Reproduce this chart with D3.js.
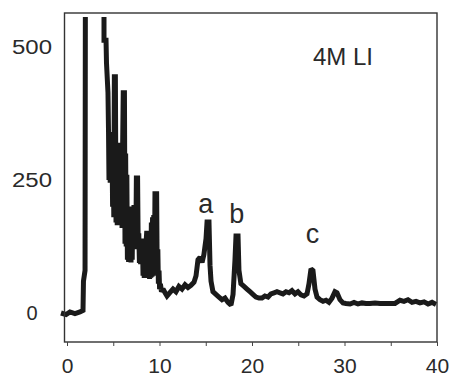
<!DOCTYPE html>
<html><head><meta charset="utf-8">
<script src="https://cdn.jsdelivr.net/npm/d3@7"></script>
<style>body{margin:0;background:#fff}svg{display:block}text{font-family:"Liberation Sans",Arial,sans-serif;fill:#2a2a2a}</style>
</head><body>
<svg id="c" width="454" height="379"></svg>
<script>
// retention / elution axis values
const xs = [-0.65,-0.1,0.32,0.86,1.4,1.73,1.78,1.95,2.05,4.0,4.0,4.22,4.27,
4.43,4.49,4.54,4.61,4.67,4.74,4.80,4.86,4.93,4.99,5.06,5.12,5.23,5.30,5.36,5.43,5.49,5.56,5.62,5.69,5.75,5.82,5.88,5.95,6.01,6.08,6.21,6.27,6.34,6.40,6.47,6.53,6.59,6.66,6.72,6.79,6.85,6.92,6.98,7.05,7.11,7.18,7.24,7.31,7.37,7.44,7.50,7.63,7.70,7.76,7.83,7.89,7.96,8.02,8.09,8.15,8.22,8.28,8.35,8.41,8.48,8.54,8.61,8.74,8.80,8.86,8.93,8.99,9.06,9.12,9.19,9.25,9.32,9.38,9.45,9.51,9.69,9.75,9.82,9.88,9.95,10.01,10.10,10.21,10.38,
10.6,10.81,11.1,11.46,11.78,12.1,12.43,12.76,13.08,13.4,13.73,13.95,14.16,14.38,14.6,14.8,15.03,15.14,15.35,15.46,15.57,15.78,16.1,16.43,16.76,17.08,17.4,17.73,17.95,18.16,18.27,18.49,18.59,18.8,19.14,19.46,19.78,20.1,20.43,20.76,21.08,21.4,21.73,22.05,22.38,22.7,23.03,23.35,23.68,24.0,24.32,24.65,24.97,25.3,25.62,25.95,26.16,26.38,26.59,26.81,27.03,27.35,27.68,28.0,28.32,28.65,28.97,29.19,29.51,29.84,30.16,30.6,31.03,31.46,31.89,32.32,32.76,33.3,33.84,34.38,34.92,35.46,36.0,36.43,36.86,37.3,37.73,38.16,38.6,39.03,39.46,39.9];
// signal intensity values
const ys = [0,-3,2,-1,2,5,60,80,1500,1500,513,513,470,
415,340,250,335,245,340,250,325,200,320,180,444,444,170,315,165,320,170,310,170,315,175,310,160,305,414,414,130,300,125,260,100,200,96,160,98,150,95,160,100,200,120,203,122,200,125,254,254,120,150,94,130,92,135,95,140,70,130,66,140,70,130,150,150,66,120,64,140,66,170,68,180,70,184,75,224,224,80,120,55,80,45,55,40,45,
38,32,38,45,40,50,45,53,48,52,58,70,100,105,95,110,140,171,171,90,60,40,35,30,25,28,20,15,35,100,145,145,80,55,50,45,40,35,30,28,28,32,30,36,38,40,38,36,40,38,42,36,40,34,32,36,55,83,80,45,30,25,22,24,20,28,40,38,25,19,18,17,20,17,19,18,18,19,18,18,18,18,24,22,25,20,22,19,21,17,20,16];
const xTicks = [0,10,20,30,40];
const xMinor = [0,5,10,15,20,25,30,35,40];
const yTicks = [0,250,500];
const peakLabels = ["a","b","c"];
const peakPos = [[15.0,213],[18.35,223],[26.55,243]]; // x value, baseline y px
const title = "4M LI";

const svg = d3.select("#c");
const L=64.5, R=437, T=13, B=342;
const x = d3.scaleLinear().domain([(L-67)/9.25, 40]).range([L, R]);
const y = d3.scaleLinear().domain([-54.5, 564]).range([B, T]);

svg.append("clipPath").attr("id","clip").append("rect")
  .attr("x",55).attr("y",17).attr("width",R-55+3).attr("height",B-17);

const data = xs.map((v,i)=>[v, ys[i]]);
svg.append("path").datum(data)
  .attr("clip-path","url(#clip)")
  .attr("fill","none").attr("stroke","#1a1a1a").attr("stroke-width",5)
  .attr("stroke-linejoin","miter").attr("stroke-miterlimit",2)
  .attr("d", d3.line().x(d=>x(d[0])).y(d=>y(d[1])));

// frame
svg.append("rect").attr("x",L).attr("y",T).attr("width",R-L).attr("height",B-T)
  .attr("fill","none").attr("stroke","#333").attr("stroke-width",1.4);

// x axis ticks and labels
const xAxis = d3.axisBottom(x).tickValues(xMinor).tickSize(4).tickFormat(d=> xTicks.includes(d)? d : "");
const gx = svg.append("g").attr("transform",`translate(0,${B})`).call(xAxis);
gx.select(".domain").remove();
gx.selectAll("line").attr("stroke","#444").attr("stroke-width",1);
gx.selectAll("text").attr("font-size",21).attr("fill","#2a2a2a")
  .attr("font-family","Liberation Sans, Arial, sans-serif").attr("y",31).attr("dy",null);

// y labels
svg.selectAll(".yl").data(yTicks).enter().append("text")
  .attr("x",32).attr("y",d=>y(d)).attr("dy","0.36em")
  .attr("text-anchor","middle").attr("font-size",20)
  .each(function(d){ if(String(d).length>1){ d3.select(this).attr("textLength",40).attr("lengthAdjust","spacingAndGlyphs"); } })
  .text(d=>d);

// peak labels
svg.selectAll(".pl").data(peakLabels).enter().append("text")
  .attr("x",(d,i)=>x(peakPos[i][0])).attr("y",(d,i)=>peakPos[i][1])
  .attr("text-anchor","middle").attr("font-size",27).text(d=>d);

svg.append("text").attr("x",313).attr("y",65).attr("font-size",24).text(title);
</script>
</body></html>
